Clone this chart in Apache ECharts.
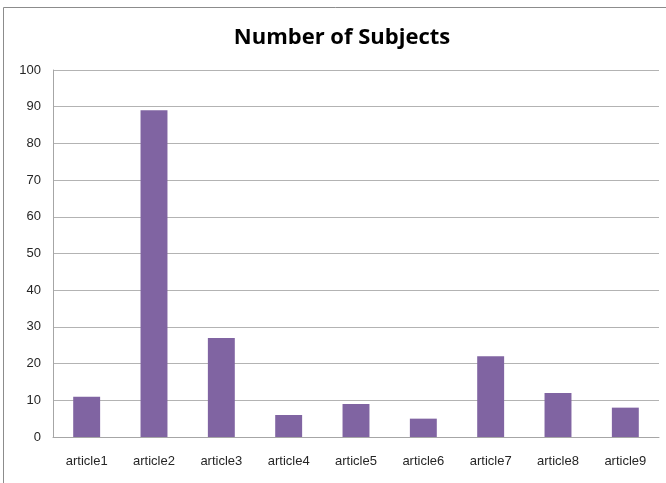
<!DOCTYPE html>
<html>
<head>
<meta charset="utf-8">
<script src="https://cdn.jsdelivr.net/npm/echarts@6/dist/echarts.min.js"></script>
<style>
  html, body { margin: 0; padding: 0; background: #fff; }
  #chart { width: 666px; height: 483px; }
</style>
</head>
<body>
<div id="chart"></div>
<script>
// Subject counts per article
const categories = ['article1', 'article2', 'article3', 'article4', 'article5', 'article6', 'article7', 'article8', 'article9'];
const subjects = [11, 89, 27, 6, 9, 5, 22, 12, 8];
const yTicks = { min: 0, max: 100, interval: 10 };

const chart = echarts.init(document.getElementById('chart'), null, { renderer: 'canvas' });

chart.setOption({
  animation: false,
  backgroundColor: '#ffffff',
  title: {
    text: 'Number of Subjects',
    left: 337,
    textAlign: 'center',
    top: 22,
    textStyle: {
      fontFamily: 'Open Sans',
      fontWeight: 'bold',
      fontSize: 22,
      color: '#000000'
    }
  },
  graphic: [{
    type: 'rect',
    shape: { x: 3.5, y: 7.5, width: 700, height: 520 },
    style: { fill: 'none', stroke: '#8c8c8c', lineWidth: 1 },
    silent: true
  }],
  grid: { left: 53, right: 7, top: 70, bottom: 46, containLabel: false },
  xAxis: {
    type: 'category',
    data: categories,
    axisLine: { show: true, lineStyle: { color: '#a6a6a6', width: 1 } },
    axisTick: { show: false },
    axisLabel: {
      margin: 18,
      fontFamily: 'Liberation Sans',
      fontSize: 13,
      color: '#262626'
    }
  },
  yAxis: {
    type: 'value',
    min: yTicks.min,
    max: yTicks.max,
    interval: yTicks.interval,
    axisLine: { show: true, lineStyle: { color: '#a6a6a6', width: 1 } },
    axisTick: { show: false },
    splitLine: { show: true, lineStyle: { color: '#b3b3b3', width: 1 } },
    axisLabel: {
      margin: 12,
      fontFamily: 'Liberation Sans',
      fontSize: 13,
      color: '#262626'
    }
  },
  series: [{
    type: 'bar',
    data: subjects,
    barWidth: '40%',
    itemStyle: { color: '#8064A2' }
  }]
});
</script>
</body>
</html>
